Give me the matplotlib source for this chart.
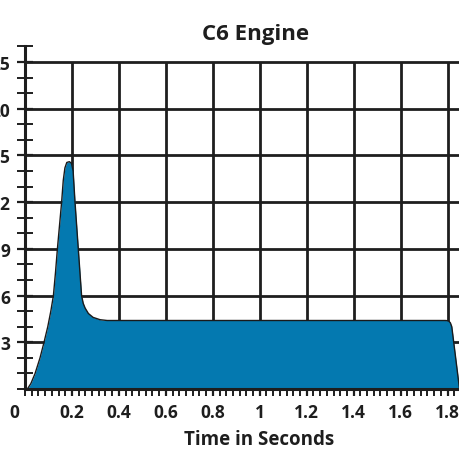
import matplotlib
matplotlib.use("Agg")
import matplotlib.pyplot as plt
from matplotlib.ticker import MultipleLocator, FixedLocator

# Data (thrust in chart grid units, ticks labelled below)
time_s = [0.010, 0.025, 0.043, 0.064, 0.081, 0.097, 0.110, 0.121, 0.130, 0.138,
          0.147, 0.156, 0.163, 0.170, 0.178, 0.189, 0.198, 0.205, 0.213, 0.220,
          0.227, 0.234, 0.241, 0.248, 0.256, 0.270, 0.290, 0.320, 0.350,
          1.790, 1.804, 1.812, 1.818, 1.851]
thrust = [0.0, 0.35, 1.0, 2.0, 3.0, 4.0, 5.0, 6.0, 7.5, 9.0,
          10.5, 12.0, 13.4, 14.2, 14.55, 14.6, 14.5, 14.0, 12.0, 10.5,
          9.0, 7.5, 6.0, 5.5, 5.2, 4.85, 4.6, 4.45, 4.4,
          4.4, 4.38, 4.25, 4.0, 0.0]
y_ticks = [3, 6, 9, 12, 15, 18, 21]
y_tick_labels = ["3", "6", "9", "12", "15", "20", "25"]
x_ticks = [0.2, 0.4, 0.6, 0.8, 1.0, 1.2, 1.4, 1.6, 1.8]
x_tick_labels = ["0.2", "0.4", "0.6", "0.8", "1", "1.2", "1.4", "1.6", "1.8"]
title = "C6 Engine"
xlabel = "Time in Seconds"

FONT = ["Open Sans", "DejaVu Sans"]
plt.rcParams["font.family"] = FONT

fig = plt.figure(figsize=(4.6, 4.6), dpi=100)
ax = fig.add_axes([25/460, 70/460, 435/460, 343/460])
ax.set_xlim(0, 1.853)
ax.set_ylim(0, 22.03)

grid_c = "#1e1e1e"
for yv in y_ticks:
    ax.axhline(yv, color=grid_c, lw=2.0, zorder=1)
for xv in x_ticks:
    ax.plot([xv, xv], [0, y_ticks[-1]], color=grid_c, lw=2.0, zorder=1, solid_capstyle="butt")

ax.fill_between(time_s, thrust, 0, color="#0479b0", zorder=2, linewidth=0)
ax.plot(time_s, thrust, color="#1a1a1a", lw=1.0, zorder=3)

for s in ["top", "right"]:
    ax.spines[s].set_visible(False)
for s in ["left", "bottom"]:
    ax.spines[s].set_linewidth(2.2)
    ax.spines[s].set_color("#1e1e1e")
    ax.spines[s].set_zorder(4)

ax.yaxis.set_major_locator(FixedLocator(y_ticks))
ax.set_yticklabels(y_tick_labels)
ax.yaxis.set_minor_locator(MultipleLocator(1))
ax.tick_params(axis="y", which="major", direction="inout", length=11, width=1.6,
               color=grid_c, pad=5, labelsize=12.5)
ax.tick_params(axis="y", which="minor", direction="inout", length=11, width=1.4,
               color=grid_c)

ax.xaxis.set_major_locator(FixedLocator(x_ticks))
ax.set_xticklabels(x_tick_labels)
ax.xaxis.set_minor_locator(MultipleLocator(0.2/7))
ax.tick_params(axis="x", which="major", direction="out", length=5, width=1.6,
               color=grid_c, pad=5, labelsize=12.5)
ax.tick_params(axis="x", which="minor", direction="out", length=5, width=1.4,
               color=grid_c)
for lab in ax.get_xticklabels() + ax.get_yticklabels():
    lab.set_fontweight("bold")
    lab.set_color("#1e1e1e")

# "0" label on x axis, shifted left of origin
ax.annotate("0", xy=(0, 0), xycoords="data", xytext=(-11, -14), textcoords="offset pixels",
            ha="center", va="top", fontsize=12.5, fontweight="bold", color="#1e1e1e",
            annotation_clip=False)

ax.set_title(title, fontsize=16, fontweight="bold", color="#1e1e1e", pad=5, x=0.53)
ax.set_xlabel(xlabel, fontsize=13.5, fontweight="bold", color="#1e1e1e")
ax.xaxis.set_label_coords(0.538, -0.118)

fig.savefig("out.png", dpi=100)
